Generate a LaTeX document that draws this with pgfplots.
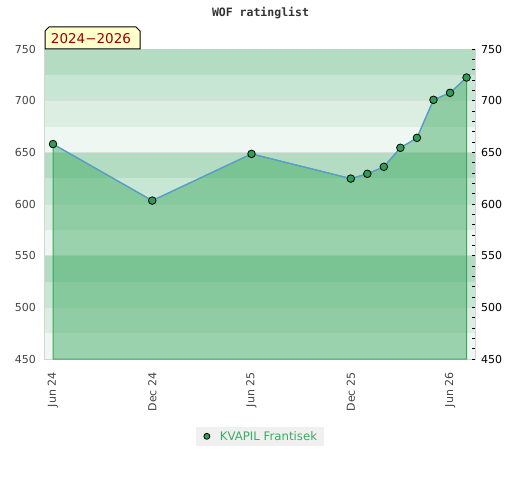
\documentclass[border=0pt]{standalone}
\usepackage{pgfplots}
\pgfplotsset{compat=1.18}
\usepackage{fontspec}
\setmainfont{DejaVu Sans}
\newfontfamily\monob{DejaVu Sans Mono}
\definecolor{bandA}{HTML}{B3DCC3}
\definecolor{bandB}{HTML}{C8E6D4}
\definecolor{bandC}{HTML}{DCEDE2}
\definecolor{bandD}{HTML}{EFF7F2}
\definecolor{gridc}{HTML}{DDDDDD}
\definecolor{areac}{HTML}{3BAA61}
\definecolor{edgec}{HTML}{3AA55D}
\definecolor{linec}{HTML}{5B9BD5}
\definecolor{markc}{HTML}{2E9E57}
\definecolor{labc}{HTML}{444444}
\definecolor{legtext}{HTML}{3CAB62}
\definecolor{legbg}{HTML}{F0F0F0}
\definecolor{boxbg}{HTML}{FFFFCC}
\definecolor{boxtext}{HTML}{990000}
\definecolor{axc}{HTML}{D4D4D4}
\pgfplotstableread{
m r
0 658
6 603.3
12 648.5
18 624.6
19 629.2
20 636
21 654.4
22 664
23 700.8
24 707.6
25 722.4
}\ratings
\begin{document}
\begin{tikzpicture}[x=1pt,y=1pt]
\path[use as bounding box] (0,0) rectangle (520,480);
\begin{axis}[
  at={(45pt,121pt)}, anchor=south west,
  scale only axis, width=430pt, height=310pt,
  xmin=-0.484, xmax=25.51, ymin=450, ymax=750,
  axis line style={axc, line width=1pt},
  xtick={0,6,12,18,24},
  xticklabels={Jun 24,Dec 24,Jun 25,Dec 25,Jun 26},
  xticklabel style={rotate=90, anchor=east, font=\fontsize{11}{13}\selectfont, text=labc, xshift=-10pt},
  ytick={450,500,...,750},
  yticklabel style={font=\fontsize{11}{13}\selectfont, text=labc, xshift=-5.5pt},
  /pgf/number format/assume math mode=true,
  major tick length=0pt,
  tick style={draw=none},
  legend style={at={(0.5,-0.219)}, anchor=north, fill=legbg, draw=none,
    font=\fontsize{11.75}{13}\selectfont, text=legtext, inner xsep=5pt, inner ysep=2pt},
  legend image code/.code={\path[draw=none,fill=none] (-6pt,0pt) -- (11pt,0pt); \path[#1, draw=black, mark size=3pt] plot coordinates {(0pt,0pt)};},
  legend cell align=left,
]
\fill[bandA] (axis cs:-0.484,725) rectangle (axis cs:25.51,750);
\fill[bandB] (axis cs:-0.484,700) rectangle (axis cs:25.51,725);
\fill[bandC] (axis cs:-0.484,675) rectangle (axis cs:25.51,700);
\fill[bandD] (axis cs:-0.484,650) rectangle (axis cs:25.51,675);
\fill[bandA] (axis cs:-0.484,625) rectangle (axis cs:25.51,650);
\fill[bandB] (axis cs:-0.484,600) rectangle (axis cs:25.51,625);
\fill[bandC] (axis cs:-0.484,575) rectangle (axis cs:25.51,600);
\fill[bandD] (axis cs:-0.484,550) rectangle (axis cs:25.51,575);
\fill[bandA] (axis cs:-0.484,525) rectangle (axis cs:25.51,550);
\fill[bandB] (axis cs:-0.484,500) rectangle (axis cs:25.51,525);
\fill[bandC] (axis cs:-0.484,475) rectangle (axis cs:25.51,500);
\fill[bandD] (axis cs:-0.484,450) rectangle (axis cs:25.51,475);
\foreach \yy in {500,550,600,650,700}{
  \edef\tmp{\noexpand\draw[gridc, line width=1pt] (axis cs:-0.484,\yy) -- (axis cs:25.51,\yy);}\tmp
}
\addplot[forget plot, fill=areac, fill opacity=0.47, draw=edgec, line width=1pt] table[x=m,y=r] {\ratings} \closedcycle;
\addplot[forget plot, linec, line width=1.2pt, mark=none] table[x=m,y=r] {\ratings};
\addplot[only marks, mark=*, mark size=3.8pt, mark options={fill=markc, draw=black, line width=0.8pt}] table[x=m,y=r] {\ratings};
\addlegendentry{KVAPIL Frantisek}
\end{axis}
\begin{axis}[
  at={(45pt,121pt)}, anchor=south west,
  scale only axis, width=430pt, height=310pt,
  xmin=-0.484, xmax=25.51, ymin=450, ymax=750,
  axis y line*=right, axis x line=none,
  y axis line style={draw=none},
  ytick={450,500,...,750},
  minor ytick={460,470,480,490,510,520,530,540,560,570,580,590,610,620,630,640,660,670,680,690,710,720,730,740},
  yticklabel style={font=\fontsize{11}{13}\selectfont, text=black, xshift=2.5pt},
  /pgf/number format/assume math mode=true,
  tick align=inside,
  major tick length=3pt, minor tick length=3pt,
  tick style={black, line width=0.8pt},
]
\end{axis}
\fill[boxbg] (45,431) -- (45,449) -- (49,453) -- (136,453) -- (140,449) -- (140,431) -- cycle;
\draw[black, line width=1pt] (45,431) -- (45,449) -- (49,453) -- (136,453) -- (140,449) -- (140,431) -- cycle;
\node[text=boxtext, font=\fontsize{13.5}{16}\selectfont] at (91,441.5) {2024−2026};
\node[text=black!80, font=\monob\bfseries\fontsize{11.5}{13}\selectfont] at (260.5,467) {WOF ratinglist};
\end{tikzpicture}
\end{document}
